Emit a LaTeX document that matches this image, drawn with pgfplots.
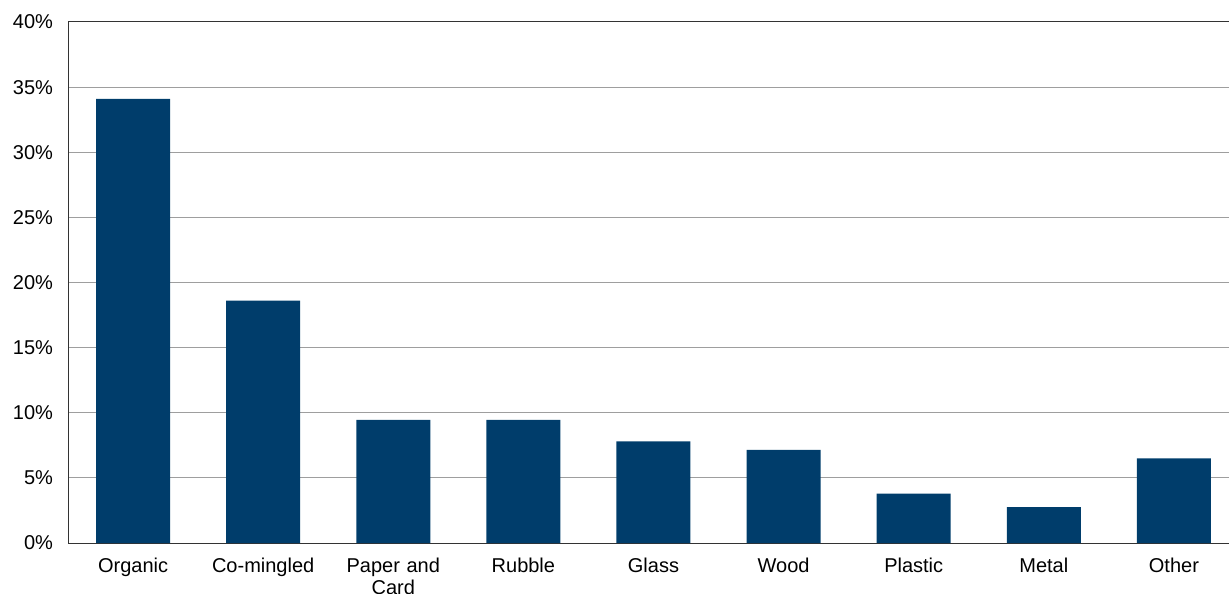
\documentclass[border=0pt]{standalone}
\usepackage{pgfplots}
\pgfplotsset{compat=1.18}
\usepackage{fontspec}
\setmainfont{Liberation Sans}
\definecolor{barblue}{HTML}{003D6B}
\begin{document}
\begin{tikzpicture}
\path[use as bounding box] (-34bp,-25.5bp) rectangle (580.5bp,271.5bp);
\begin{axis}[
  at={(0,0)}, anchor=south west,
  scale only axis,
  width=585.5bp, height=260.5bp,
  xmin=-0.5, xmax=8.5,
  ymin=0, ymax=40,
  ytick={0,5,...,40},
  yticklabel={\pgfmathprintnumber{\tick}\%},
  /pgf/number format/assume math mode=true,
  xtick={0,...,8},
  xticklabels={Organic,Co-mingled,{Paper and\\Card},Rubble,Glass,Wood,Plastic,Metal,Other},
  xticklabel style={align=center, text width=60bp, font=\fontsize{10bp}{11bp}\selectfont, yshift=-4bp},
  yticklabel style={font=\fontsize{10bp}{11bp}\selectfont, xshift=-4bp},
  major tick length=0pt,
  ymajorgrids,
  grid style={color=black!38, line width=0.5bp},
  axis line style={color=black!80, line width=0.5bp},
  axis x line*=bottom,
  axis y line*=left,
  ybar, bar width=37bp,
  clip=false,
]
\addplot[fill=barblue, draw=none] coordinates {
(0,34.1) (1,18.6) (2,9.45) (3,9.45) (4,7.8) (5,7.15) (6,3.8) (7,2.75) (8,6.5)};
\draw[black!80, line width=0.5bp] (axis cs:-0.5,40) -- (axis cs:8.5,40);
\end{axis}
\end{tikzpicture}
\end{document}
